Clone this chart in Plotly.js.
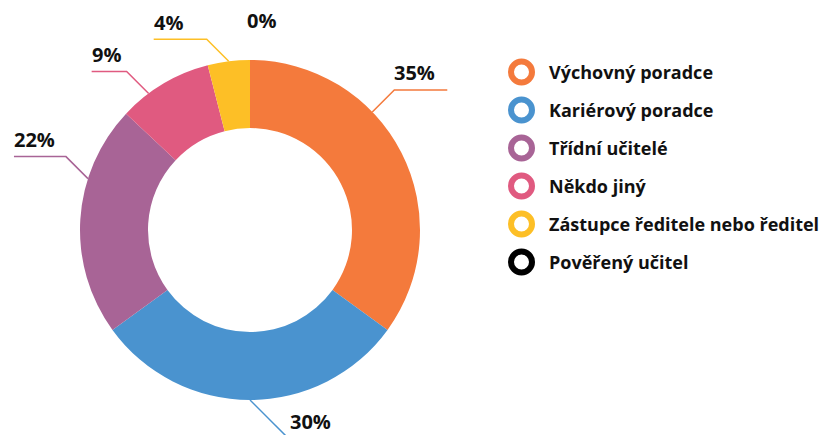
<!DOCTYPE html>
<html>
<head>
<meta charset="utf-8">
<script src="https://cdn.plot.ly/plotly-3.0.1.min.js"></script>
<style>html,body{margin:0;padding:0;background:#fff}#chart{width:828px;height:435px}</style>
</head>
<body>
<div id="chart"></div>
<script>
// ---- data ----
var categories = ["Výchovný poradce", "Kariérový poradce", "Třídní učitelé", "Někdo jiný", "Zástupce ředitele nebo ředitel", "Pověřený učitel"];
var values = [35, 30, 22, 9, 4, 0];
var colors = ["#F47A3C", "#4A93CF", "#A86496", "#E05A80", "#FDBF26", "#000000"];

// ---- layout config (label placement) ----
var W = 828, H = 435;
var cx = 250, cy = 230, R = 170;
var labelCfg = [
  {shift: -17, diag: 22, horiz: 53, ldx: 0},
  {shift: 0, diag: 38, horiz: 0, ldx: 2, sx: 1},
  {shift: 14, diag: 22, horiz: 52, ldx: 0},
  {shift: -6, diag: 22, horiz: 35, ldx: 0},
  {shift: 0, diag: 22, horiz: 53, ldx: 0},
  {shift: 0, diag: 22, horiz: 53, ldx: -25, sx: 1}
];
var FONT = "'Open Sans', Lato, sans-serif";

function px(x) { return x / W; }
function py(y) { return 1 - y / H; }

var total = values.reduce(function(a, b) { return a + b; }, 0);
var shapes = [], annotations = [];
var cum = 0;
values.forEach(function(v, i) {
  var mid = (cum + v / 2) / total * 360;
  cum += v;
  var cfg = labelCfg[i];
  var a = (mid + cfg.shift) * Math.PI / 180;
  var sx0 = cfg.sx !== undefined ? cfg.sx : (Math.sin(a) >= 0 ? 1 : -1);
  var sy0 = Math.cos(a) > 0.01 ? -1 : 1;
  var x0 = cx + R * Math.sin(a), y0 = cy - R * Math.cos(a);
  var x1 = x0 + sx0 * cfg.diag, y1 = y0 + sy0 * cfg.diag;
  var x2 = x1 + sx0 * cfg.horiz;
  if (v > 0) {
    shapes.push({
      type: "path", xref: "paper", yref: "paper",
      path: "M" + px(x0) + "," + py(y0) + " L" + px(x1) + "," + py(y1) + " L" + px(x2) + "," + py(y1),
      line: {color: colors[i], width: 1.5}
    });
  }
  annotations.push({
    xref: "paper", yref: "paper", x: px(Math.min(x1, x2) + cfg.ldx - 2), y: py(y1 - 17),
    xanchor: "left", yanchor: "middle", showarrow: false,
    text: v + "%", font: {family: FONT, size: 20, color: "#111", weight: 700}
  });
});

// custom legend with ring markers
var legX = 521.5, legY0 = 72, legDy = 38;
categories.forEach(function(c, i) {
  var y = legY0 + i * legDy, r = 10.5;
  shapes.push({
    type: "circle", xref: "paper", yref: "paper",
    x0: px(legX - r), x1: px(legX + r), y0: py(y + r), y1: py(y - r),
    line: {color: colors[i], width: 6}, fillcolor: "rgba(0,0,0,0)"
  });
  annotations.push({
    xref: "paper", yref: "paper", x: px(547), y: py(y),
    xanchor: "left", yanchor: "middle", showarrow: false,
    text: c, font: {family: FONT, size: 18, color: "#111", weight: 700}
  });
});

var trace = {
  type: "pie",
  labels: categories,
  values: values,
  marker: {colors: colors, line: {width: 0}},
  hole: 0.6,
  sort: false,
  direction: "clockwise",
  rotation: 0,
  textinfo: "none",
  hoverinfo: "none",
  showlegend: false,
  domain: {x: [px(cx - R), px(cx + R)], y: [py(cy + R), py(cy - R)]}
};

var layout = {
  width: W, height: H,
  margin: {l: 0, r: 0, t: 0, b: 0},
  paper_bgcolor: "#fff",
  showlegend: false,
  shapes: shapes,
  annotations: annotations
};

Plotly.newPlot("chart", [trace], layout, {displayModeBar: false, staticPlot: true});
</script>
</body>
</html>
